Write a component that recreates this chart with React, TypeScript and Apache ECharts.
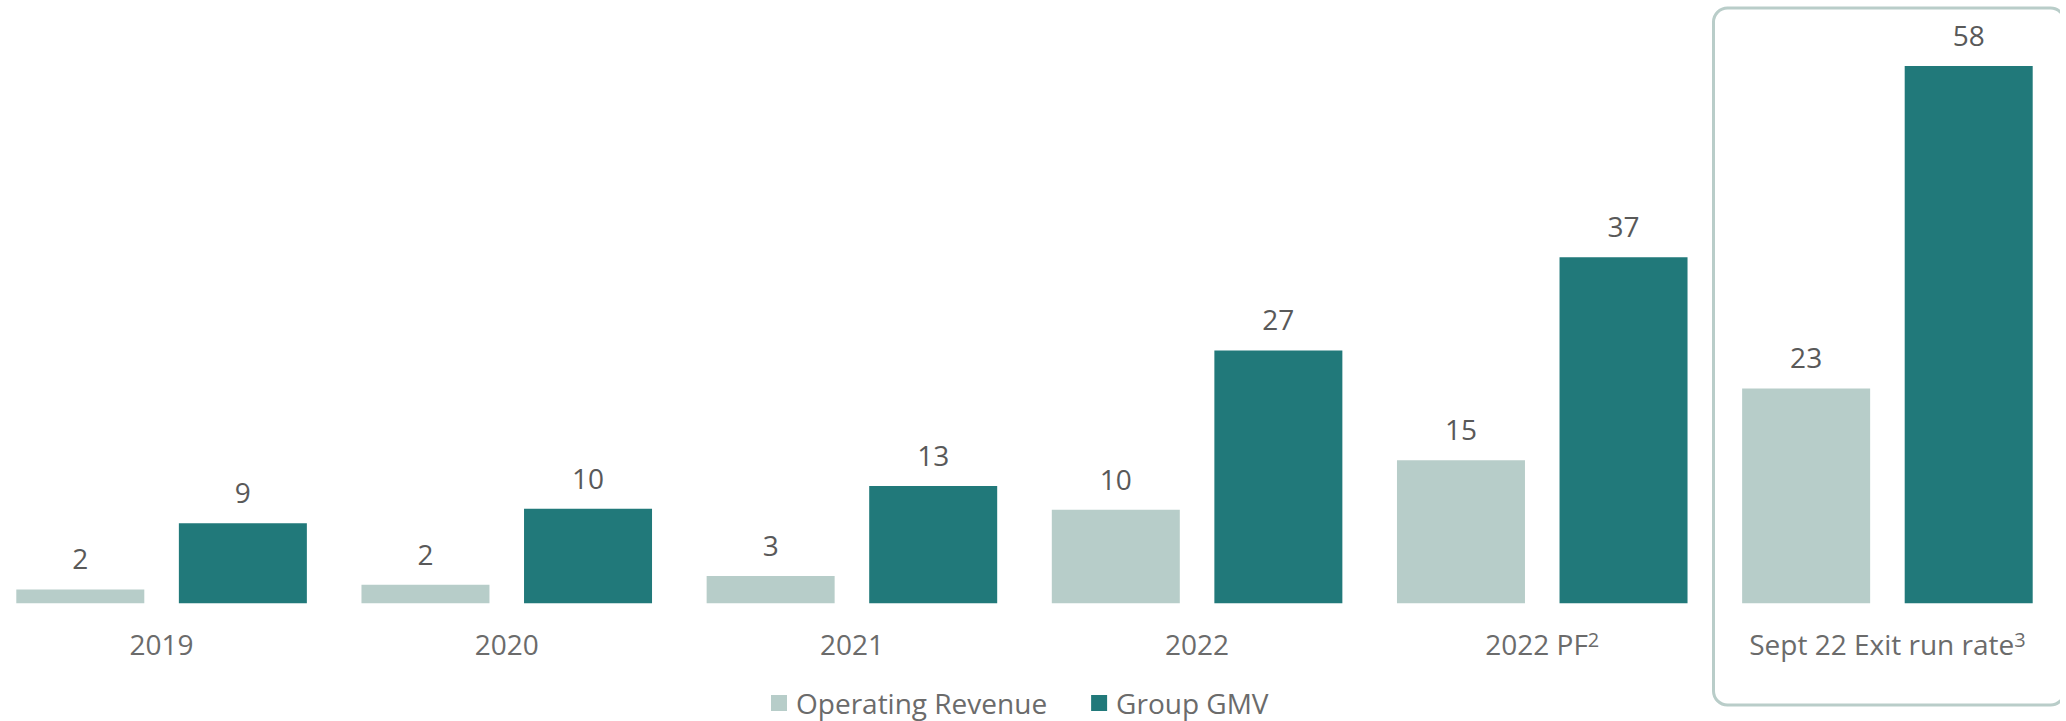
import React, { useEffect, useRef } from 'react';
import * as echarts from 'echarts';

const categories = ['2019', '2020', '2021', '2022', '2022 PF', 'Sept 22 Exit run rate'];
const footnotes = ['', '', '', '', '2', '3'];
const seriesNames = ['Operating Revenue', 'Group GMV'];
const operatingRevenue = [1.5, 2.0, 2.95, 10.1, 15.45, 23.2];
const groupGMV = [8.65, 10.2, 12.65, 27.3, 37.35, 58];
const colors = ['#b7cdc9', '#21797a'];

// the chart's drawing area starts 11px left of the page edge
const OFFSET = 11;

export default function App() {
  const ref = useRef<HTMLDivElement>(null);
  useEffect(() => {
    if (!ref.current) return;
    const chart = echarts.init(ref.current, null, { renderer: 'svg' });
    const font = '"Open Sans", sans-serif';
    const valueLabel = {
      show: true,
      position: 'top',
      distance: 17,
      color: '#595959',
      fontSize: 28,
      fontFamily: font,
      formatter: (p: any) => String(Math.round(p.value)),
    };
    chart.setOption({
      animation: false,
      grid: { left: 0, right: 0, top: 47.5, bottom: 117.7, containLabel: false },
      xAxis: {
        type: 'category',
        data: categories,
        axisLine: { show: false },
        axisTick: { show: false },
        splitLine: { show: false },
        axisLabel: {
          margin: 26,
          interval: 0,
          formatter: (v: string, i: number) =>
            footnotes[i] ? `{base|${v}}{sup|${footnotes[i]}}` : `{base|${v}}`,
          rich: {
            base: { fontSize: 28, fontFamily: font, color: '#6b6b6b', lineHeight: 30 },
            sup: { fontSize: 20, fontFamily: font, color: '#6b6b6b', verticalAlign: 'top', lineHeight: 16 },
          },
        },
      },
      yAxis: { type: 'value', min: 0, max: 60, show: false },
      legend: {
        data: seriesNames,
        left: 771 + OFFSET,
        top: 689,
        itemWidth: 16,
        itemHeight: 16,
        itemGap: 44,
        icon: 'rect',
        padding: 0,
        selectedMode: false,
        textStyle: {
          fontSize: 28,
          lineHeight: 28,
          fontFamily: font,
          color: '#6b6b6b',
          padding: [0, 0, 0, 4],
        },
      },
      series: [
        {
          name: seriesNames[0],
          type: 'bar',
          data: operatingRevenue,
          barWidth: 128,
          barGap: '27%',
          itemStyle: { color: colors[0] },
          label: valueLabel,
        },
        {
          name: seriesNames[1],
          type: 'bar',
          data: groupGMV,
          barWidth: 128,
          barGap: '27%',
          itemStyle: { color: colors[1] },
          label: valueLabel,
        },
      ],
      graphic: [
        {
          type: 'rect',
          silent: true,
          z: -1,
          shape: { x: 1713.5 + OFFSET, y: 8, width: 351, height: 697, r: 14 },
          style: { fill: 'transparent', stroke: '#b9cdc9', lineWidth: 3 },
        },
      ],
    });
    return () => chart.dispose();
  }, []);
  return (
    <div
      ref={ref}
      style={{ position: 'absolute', left: -OFFSET, top: 0, width: 2066 + OFFSET - 6, height: 721 }}
    />
  );
}
